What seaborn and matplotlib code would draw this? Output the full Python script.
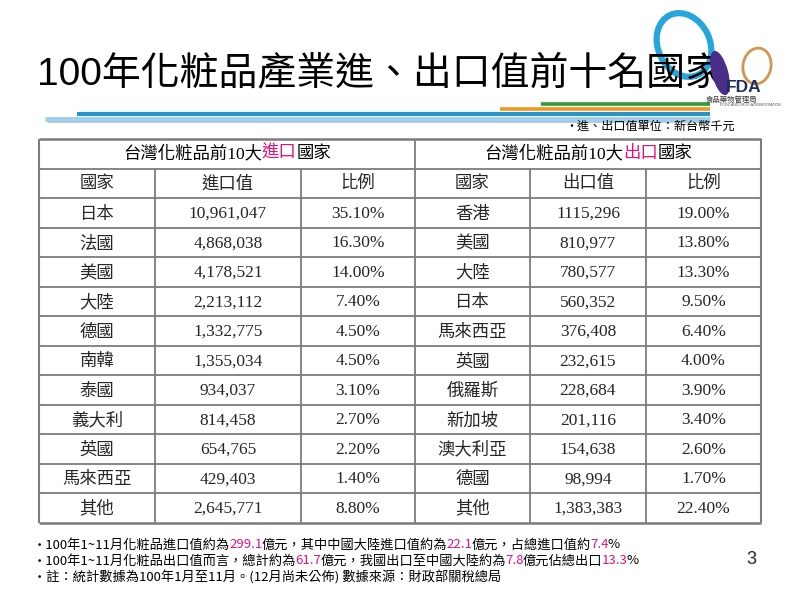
import matplotlib
matplotlib.use("Agg")
import matplotlib.pyplot as plt
from matplotlib.patches import Ellipse
import pandas as pd
import seaborn as sns

# ---------------- data ----------------
import_countries = ["日本", "法國", "美國", "大陸", "德國", "南韓", "泰國", "義大利", "英國", "馬來西亞", "其他"]
import_values = ["10,961,047", "4,868,038", "4,178,521", "2,213,112", "1,332,775", "1,355,034",
                 "934,037", "814,458", "654,765", "429,403", "2,645,771"]
import_shares = [35.10, 16.30, 14.00, 7.40, 4.50, 4.50, 3.10, 2.70, 2.20, 1.40, 8.80]

export_countries = ["香港", "美國", "大陸", "日本", "馬來西亞", "英國", "俄羅斯", "新加坡", "澳大利亞", "德國", "其他"]
export_values = ["1115,296", "810,977", "780,577", "560,352", "376,408", "232,615",
                 "228,684", "201,116", "154,638", "98,994", "1,383,383"]
export_shares = [19.00, 13.80, 13.30, 9.50, 6.40, 4.00, 3.90, 3.40, 2.60, 1.70, 22.40]

header_import = ["國家", "進口值", "比例"]
header_export = ["國家", "出口值", "比例"]

title_text = "100年化粧品產業進、出口值前十名國家"
unit_note = "•進、出口值單位：新台幣千元"

table = pd.DataFrame({
    "ic": import_countries, "iv": import_values,
    "ip": [f"{v:.2f}%" for v in import_shares],
    "ec": export_countries, "ev": export_values,
    "ep": [f"{v:.2f}%" for v in export_shares],
})

# ---------------- style ----------------
sns.set_theme(style="white")
CJK = ["Noto Sans CJK TC", "DejaVu Sans"]
SERIF = ["Liberation Serif", "Noto Sans CJK TC"]
SANS = ["Liberation Sans", "Noto Sans CJK TC"]
NOTO = ["Noto Sans CJK TC"]
plt.rcParams["font.family"] = CJK

PINK = "#e2127c"
GRID = "#7c7c7c"

fig = plt.figure(figsize=(8, 6), dpi=100)
ax = fig.add_axes([0, 0, 1, 1])
ax.set_xlim(0, 800)
ax.set_ylim(600, 0)
ax.axis("off")
renderer = fig.canvas.get_renderer()


def rich_text(x, y, parts, ha="left", family=None, gap=0.0, **kw):
    texts = []
    cur = x
    for s, c in parts:
        t = ax.text(cur, y, s, color=c, ha="left", va="center", family=family, **kw)
        w = t.get_window_extent(renderer=renderer).width
        texts.append(t)
        cur += w + gap
    total = cur - x
    if ha == "center":
        for t in texts:
            px, py = t.get_position()
            t.set_position((px - total / 2, py))
    return texts


# ---------------- title & decoration ----------------
ax.text(37, 74, title_text, fontsize=28.0, family=SANS, va="center", ha="left", color="black", zorder=3)

ax.plot([48, 710], [121.5, 121.5], color="#c9c9c9", lw=1.6, solid_capstyle="butt")
ax.plot([45, 710], [118.5, 118.5], color="#9fcfee", lw=3.5, solid_capstyle="butt")
ax.plot([77, 710], [114, 114], color="#2a94c6", lw=3.0, solid_capstyle="butt")
ax.plot([500, 710], [109, 109], color="#f09a1c", lw=2.6, solid_capstyle="butt")
ax.plot([541, 710], [104, 104], color="#2f9a3c", lw=2.6, solid_capstyle="butt")

# logo
ax.add_patch(Ellipse((684, 45), 52, 66, angle=-25, fill=False, edgecolor="#27a6dc", lw=4.5, zorder=2))
ax.add_patch(Ellipse((757, 66), 28, 36, angle=10, fill=False, edgecolor="#d3954b", lw=2, zorder=2))
ax.add_patch(Ellipse((720, 73), 15, 44, angle=-15, color="#4a2d86", zorder=4))
ax.text(744, 87, "FDA", fontsize=12.5, fontweight="bold", color="#1e2f5a", family=SANS,
        ha="center", va="center", zorder=5)
ax.text(731, 99.5, "食品藥物管理局", fontsize=5.3, color="#333333", ha="center", va="center", zorder=5)
ax.text(750, 105, "FOOD AND DRUG ADMINISTRATION", fontsize=2.6, color="#555555", family=SANS,
        ha="center", va="center", zorder=5)

ax.text(565, 126, unit_note, fontsize=8.7, family=CJK, ha="left", va="center", color="black")

# ---------------- table ----------------
col_x = [39, 155, 301, 415, 530, 646, 761]
top = 139.0
row_h = 29.5
n_rows = 2 + len(table)
row_y = [top + row_h * i for i in range(n_rows + 1)]
FS = 12.5

# grid
for i, y in enumerate(row_y):
    lw = 1.8 if i in (0, n_rows) else 1.3
    ax.plot([col_x[0], col_x[-1]], [y, y], color=GRID, lw=lw, solid_capstyle="butt", zorder=2)
for j, x in enumerate(col_x):
    y0 = row_y[0] if j in (0, 3, 6) else row_y[1]
    ax.plot([x, x], [y0, row_y[-1]], color=GRID, lw=1.5 if j in (0, 6) else 1.3,
            solid_capstyle="butt", zorder=2)

# title row
ty = (row_y[0] + row_y[1]) / 2
rich_text((col_x[0] + col_x[3]) / 2, ty,
          [("台灣化粧品前10大", "black"), ("進口", PINK), ("國家", "black")],
          ha="center", fontsize=FS, family=SERIF)
rich_text((col_x[3] + col_x[6]) / 2, ty,
          [("台灣化粧品前10大", "black"), ("出口", PINK), ("國家", "black")],
          ha="center", fontsize=FS, family=SERIF)

# header row
hy = (row_y[1] + row_y[2]) / 2
for j, h in enumerate(header_import + header_export):
    ax.text((col_x[j] + col_x[j + 1]) / 2, hy, h, fontsize=FS, family=CJK, ha="center", va="center")

# data rows
cols = ["ic", "iv", "ip", "ec", "ev", "ep"]
for i, rec in table.iterrows():
    cy = (row_y[i + 2] + row_y[i + 3]) / 2 + 1
    for j, c in enumerate(cols):
        fam = CJK if c in ("ic", "ec") else SERIF
        ax.text((col_x[j] + col_x[j + 1]) / 2, cy, rec[c], fontsize=FS, family=fam,
                ha="center", va="center")

# ---------------- footnotes ----------------
NFS = 9.5
rich_text(33, 545, [("•100年1~11月化粧品進口值約為", "black"), ("299.1", PINK),
                    ("億元，其中中國大陸進口值約為", "black"), ("22.1", PINK),
                    ("億元，占總進口值約", "black"), ("7.4", PINK), ("%", "black")],
          fontsize=NFS, family=NOTO, gap=-0.8)
rich_text(33, 561, [("•100年1~11月化粧品出口值而言，總計約為", "black"), ("61.7", PINK),
                    ("億元，我國出口至中國大陸約為", "black"), ("7.8", PINK),
                    ("億元佔總出口", "black"), ("13.3", PINK), ("%", "black")],
          fontsize=NFS, family=NOTO, gap=-0.8)
rich_text(33, 577, [("•註：統計數據為100年1月至11月。(12月尚未公佈) 數據來源：財政部關稅總局", "black")],
          fontsize=NFS, family=NOTO)

ax.text(751, 560, "3", fontsize=13, family=SANS, ha="center", va="center")

fig.savefig("out.png", dpi=100)
